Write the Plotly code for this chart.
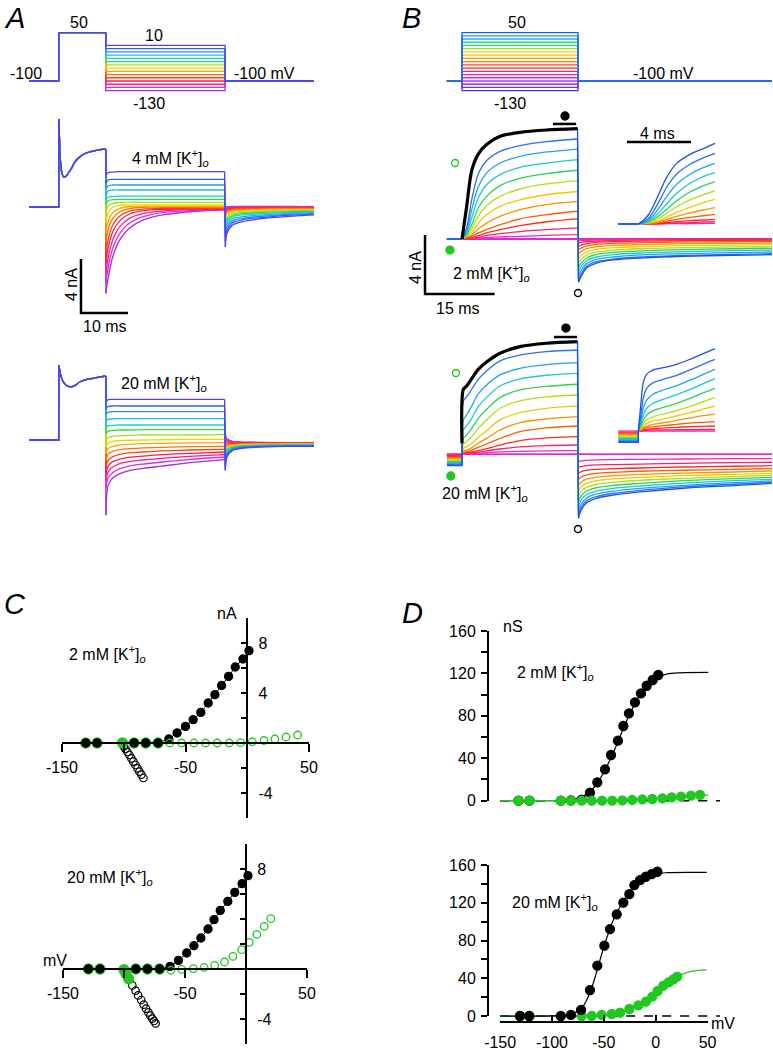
import plotly.graph_objects as go

W, H = 773, 1050
FONT = "Liberation Sans, Arial, Helvetica, sans-serif"
GREEN = "#20c820"

# ======================= DATA =======================
# ---- Panel A : protocol (mV) / timing (ms) ----
A_hold = -100
A_pre_mV = 50
A_test_mV = [10, 0, -10, -20, -30, -40, -50, -60, -70, -80, -90, -100, -110, -120, -130]
A_t_start, A_t_pre_end, A_t_test_end, A_t_stop = -6.3, 10.0, 35.4, 54.3
A_colors = ["#5b3df0", "#2f5ff5", "#2a8ef2", "#1fb8ec", "#18d4c4", "#2edc48", "#a4e01c",
            "#efd400", "#ffa600", "#ff7400", "#ff4010", "#ff1c4c", "#ff1a9c", "#e02ae2", "#9530f0"]

A_t_pre = [0.05, 0.35, 0.7, 1.1, 1.6, 2.5, 3.5, 4.5, 6.0, 8.0, 10.0]
A_t_test = [10.05, 10.5, 11.5, 13, 15, 18, 22, 28, 35.3]
A_t_tail = [35.45, 35.8, 37, 39, 42, 46, 50, 54.3]

A4_pre = [6.5, 3.48, 2.49, 2.2, 2.3, 2.74, 3.36, 3.73, 4.02, 4.2, 4.3]
A4_test = [
    [2.37, 2.54, 2.59, 2.62, 2.62, 2.62, 2.62, 2.62, 2.62],
    [1.75, 2.0, 2.05, 2.05, 2.05, 2.05, 2.05, 2.05, 2.05],
    [1.31, 1.56, 1.63, 1.63, 1.63, 1.63, 1.63, 1.63, 1.63],
    [0.89, 1.19, 1.26, 1.26, 1.26, 1.26, 1.26, 1.26, 1.26],
    [0.52, 0.72, 0.79, 0.81, 0.81, 0.81, 0.81, 0.81, 0.81],
    [0.15, 0.47, 0.54, 0.57, 0.57, 0.57, 0.57, 0.57, 0.57],
    [-0.47, 0.07, 0.27, 0.32, 0.35, 0.35, 0.35, 0.35, 0.35],
    [-1.21, -0.47, -0.02, 0.12, 0.15, 0.15, 0.15, 0.15, 0.15],
    [-1.95, -1.09, -0.42, -0.10, 0.02, 0.05, 0.05, 0.05, 0.02],
    [-2.69, -1.70, -0.84, -0.35, -0.12, -0.02, -0.02, -0.02, -0.05],
    [-3.43, -2.44, -1.33, -0.67, -0.30, -0.15, -0.10, -0.10, -0.10],
    [-4.17, -3.06, -1.83, -1.01, -0.52, -0.27, -0.17, -0.15, -0.15],
    [-4.91, -3.80, -2.44, -1.46, -0.84, -0.47, -0.30, -0.20, -0.17],
    [-5.65, -4.54, -3.06, -1.95, -1.21, -0.72, -0.42, -0.27, -0.20],
    [-6.40, -5.28, -3.68, -2.44, -1.58, -0.96, -0.59, -0.35, -0.22],
]
A4_tail = [
    [-2.94, -1.95, -1.33, -1.09, -0.91, -0.77, -0.67, -0.59],
    [-2.57, -1.70, -1.16, -0.96, -0.81, -0.69, -0.59, -0.54],
    [-2.20, -1.46, -1.01, -0.84, -0.72, -0.62, -0.52, -0.49],
    [-1.95, -1.26, -0.86, -0.72, -0.62, -0.52, -0.44, -0.42],
    [-1.70, -1.09, -0.72, -0.59, -0.52, -0.44, -0.40, -0.37],
    [-1.46, -0.91, -0.62, -0.49, -0.42, -0.37, -0.32, -0.32],
    [-1.21, -0.77, -0.49, -0.40, -0.35, -0.30, -0.27, -0.27],
    [-1.01, -0.62, -0.40, -0.32, -0.27, -0.25, -0.22, -0.22],
    [-0.84, -0.47, -0.30, -0.25, -0.20, -0.17, -0.17, -0.17],
    [-0.67, -0.35, -0.22, -0.17, -0.15, -0.12, -0.12, -0.12],
    [-0.52, -0.25, -0.15, -0.10, -0.10, -0.07, -0.07, -0.07],
    [-0.37, -0.17, -0.10, -0.05, -0.05, -0.05, -0.05, -0.05],
    [-0.22, -0.10, -0.05, -0.02, -0.02, -0.02, -0.02, -0.02],
    [-0.12, -0.05, 0.0, 0.0, 0.0, 0.0, 0.0, 0.0],
    [-0.02, 0.02, 0.05, 0.05, 0.05, 0.05, 0.05, 0.02],
]

A20_pre = [5.53, 4.9, 4.5, 4.25, 4.05, 3.93, 4.05, 4.3, 4.49, 4.62, 4.74]
A20_test = [
    [2.81, 2.99, 3.01, 3.01, 3.01, 3.01, 3.01, 3.01, 3.01],
    [2.32, 2.47, 2.52, 2.52, 2.52, 2.52, 2.52, 2.52, 2.52],
    [1.90, 2.05, 2.10, 2.10, 2.10, 2.10, 2.10, 2.10, 2.10],
    [1.41, 1.53, 1.56, 1.58, 1.58, 1.58, 1.58, 1.58, 1.58],
    [0.91, 1.04, 1.09, 1.11, 1.11, 1.11, 1.11, 1.11, 1.11],
    [0.47, 0.64, 0.72, 0.74, 0.74, 0.77, 0.77, 0.77, 0.77],
    [-0.02, 0.17, 0.27, 0.32, 0.35, 0.37, 0.37, 0.37, 0.40],
    [-0.52, -0.22, -0.10, -0.05, -0.02, 0.0, 0.02, 0.05, 0.05],
    [-1.01, -0.64, -0.47, -0.37, -0.32, -0.27, -0.25, -0.22, -0.20],
    [-1.51, -1.06, -0.84, -0.72, -0.64, -0.59, -0.54, -0.49, -0.47],
    [-2.00, -1.51, -1.23, -1.06, -0.96, -0.89, -0.81, -0.74, -0.69],
    [-2.49, -1.93, -1.60, -1.41, -1.28, -1.19, -1.09, -0.99, -0.89],
    [-2.99, -2.37, -2.00, -1.75, -1.60, -1.48, -1.36, -1.21, -1.09],
    [-3.60, -2.81, -2.40, -2.12, -1.93, -1.78, -1.63, -1.43, -1.26],
    [-5.58, -3.36, -2.81, -2.49, -2.27, -2.10, -1.93, -1.68, -1.46],
]
A20_tail = [
    [-2.25, -1.26, -0.77, -0.62, -0.54, -0.49, -0.47, -0.47],
    [-2.05, -1.14, -0.72, -0.57, -0.49, -0.47, -0.44, -0.44],
    [-1.88, -1.01, -0.67, -0.54, -0.47, -0.44, -0.42, -0.42],
    [-1.70, -0.91, -0.62, -0.49, -0.44, -0.42, -0.40, -0.40],
    [-1.51, -0.81, -0.57, -0.47, -0.42, -0.40, -0.37, -0.37],
    [-1.31, -0.72, -0.52, -0.42, -0.40, -0.37, -0.35, -0.35],
    [-1.14, -0.64, -0.47, -0.40, -0.37, -0.35, -0.32, -0.32],
    [-0.94, -0.57, -0.42, -0.35, -0.32, -0.32, -0.30, -0.30],
    [-0.77, -0.47, -0.37, -0.32, -0.30, -0.30, -0.27, -0.27],
    [-0.57, -0.40, -0.32, -0.30, -0.27, -0.27, -0.27, -0.27],
    [-0.37, -0.30, -0.27, -0.25, -0.25, -0.25, -0.25, -0.25],
    [-0.17, -0.22, -0.22, -0.22, -0.22, -0.22, -0.22, -0.22],
    [0.02, -0.12, -0.17, -0.20, -0.20, -0.20, -0.22, -0.22],
    [0.22, -0.02, -0.12, -0.17, -0.17, -0.20, -0.20, -0.20],
    [0.47, 0.10, -0.10, -0.15, -0.17, -0.20, -0.20, -0.20],
]

# ---- Panel B ----
B_hold = -100
B_test_mV = [50, 40, 30, 20, 10, 0, -10, -20, -30, -40, -50, -60, -70, -80, -90, -100, -110, -120, -130]
B_t_start, B_t_test_end, B_t_stop = -3.25, 25.0, 66.8
B_prot_colors = ["#1f5ef0", "#2a86f2", "#1eb4f0", "#1ed4c0", "#32dc3c", "#9ede1e", "#e8dc00",
                 "#ffc000", "#ff9800", "#ff7000", "#ff4a10", "#ff2428", "#ff1c6c", "#ff18ac",
                 "#f020dc", "#c82cf0", "#9a30f0", "#7230ee", "#4a34e6"]
B_colors = ["#1f50e8", "#2a72f0", "#20a4f0", "#1cc8d2", "#2cd454", "#b4de1a", "#f2c800",
            "#ff9000", "#ff5c00", "#ff2c1c", "#ff2064", "#ff22b4"]
B_flat_colors = ["#6a32ea", "#9a30f0", "#c82cf0", "#f020dc"]

B_t_test = [0, 1.0, 2.1, 3.5, 5.3, 8.2, 12.5, 18.25, 24.9]
B_t_tail = [25.1, 25.7, 26.86, 29.0, 32.6, 38.4, 47.7, 58.5, 66.8]

B2_test = [
    [0, 2.21, 4.65, 5.76, 6.40, 6.96, 7.23, 7.39, 7.48],
    [0, 0.75, 2.67, 4.41, 5.31, 5.94, 6.33, 6.60, 6.78],
    [0, 0.52, 1.99, 3.53, 4.47, 5.15, 5.60, 5.90, 6.10],
    [0, 0.41, 1.42, 2.78, 3.68, 4.36, 4.86, 5.15, 5.38],
    [0, 0.29, 0.97, 2.10, 2.89, 3.62, 4.11, 4.43, 4.66],
    [0, 0.23, 0.68, 1.54, 2.26, 2.89, 3.39, 3.73, 3.96],
    [0, 0.18, 0.45, 1.08, 1.65, 2.21, 2.66, 3.00, 3.22],
    [0, 0.14, 0.29, 0.68, 1.08, 1.53, 1.99, 2.33, 2.55],
    [0, 0.09, 0.18, 0.41, 0.63, 0.97, 1.36, 1.65, 1.88],
    [0, 0.07, 0.11, 0.23, 0.41, 0.63, 0.90, 1.17, 1.36],
    [0, 0.02, 0.05, 0.11, 0.23, 0.36, 0.50, 0.63, 0.75],
    [0, 0.0, 0.02, 0.05, 0.09, 0.14, 0.18, 0.25, 0.29],
]
B2_tail = [
    [-2.94, -2.53, -1.97, -1.63, -1.42, -1.29, -1.17, -1.11, -1.06],
    [-2.76, -2.35, -1.85, -1.54, -1.36, -1.22, -1.11, -1.04, -1.00],
    [-2.49, -2.12, -1.67, -1.38, -1.22, -1.08, -0.99, -0.93, -0.88],
    [-2.20, -1.85, -1.47, -1.22, -1.06, -0.95, -0.86, -0.79, -0.75],
    [-1.90, -1.63, -1.29, -1.04, -0.90, -0.81, -0.72, -0.66, -0.63],
    [-1.63, -1.38, -1.08, -0.88, -0.75, -0.66, -0.59, -0.54, -0.52],
    [-1.31, -1.11, -0.88, -0.70, -0.59, -0.52, -0.45, -0.41, -0.38],
    [-0.99, -0.84, -0.66, -0.52, -0.43, -0.38, -0.32, -0.29, -0.27],
    [-0.72, -0.61, -0.47, -0.36, -0.29, -0.25, -0.20, -0.18, -0.16],
    [-0.50, -0.41, -0.32, -0.23, -0.18, -0.14, -0.11, -0.09, -0.09],
    [-0.27, -0.23, -0.18, -0.14, -0.09, -0.07, -0.05, -0.05, -0.05],
    [-0.14, -0.11, -0.09, -0.07, -0.05, -0.02, -0.02, -0.02, -0.02],
]
B20_hold = [-0.77, -0.70, -0.63, -0.56, -0.49, -0.42, -0.35, -0.28, -0.21, -0.14, -0.07, 0.0]
B20_t_test = [0, 0.29, 1.0, 2.1, 3.5, 5.3, 8.2, 12.5, 18.25, 24.9]
B20_test = [
    [0.75, 4.41, 4.63, 5.13, 5.76, 6.26, 6.85, 7.30, 7.53, 7.64],
    [0.18, 3.62, 3.89, 4.41, 5.08, 5.65, 6.33, 6.73, 6.96, 7.07],
    [0.11, 2.33, 2.67, 3.28, 4.09, 4.70, 5.38, 5.83, 6.08, 6.21],
    [0.07, 1.65, 1.92, 2.44, 3.23, 3.86, 4.63, 5.11, 5.36, 5.49],
    [0.05, 1.08, 1.31, 1.76, 2.44, 3.05, 3.84, 4.36, 4.61, 4.75],
    [0.02, 0.70, 0.86, 1.20, 1.76, 2.33, 3.12, 3.62, 3.89, 4.02],
    [0.02, 0.41, 0.52, 0.75, 1.15, 1.60, 2.33, 2.82, 3.12, 3.28],
    [0.0, 0.25, 0.29, 0.45, 0.75, 1.08, 1.65, 2.15, 2.40, 2.55],
    [0.0, 0.14, 0.18, 0.29, 0.47, 0.70, 1.08, 1.54, 1.79, 1.92],
    [0.0, 0.07, 0.11, 0.16, 0.25, 0.38, 0.63, 0.93, 1.11, 1.20],
    [0.0, 0.05, 0.07, 0.09, 0.14, 0.23, 0.36, 0.50, 0.59, 0.63],
    [0.0, 0.02, 0.02, 0.05, 0.07, 0.11, 0.16, 0.20, 0.23, 0.25],
]
B20_tail = [
    [-4.34, -3.77, -3.28, -2.98, -2.76, -2.55, -2.30, -2.12, -1.97],
    [-4.11, -3.59, -3.14, -2.87, -2.64, -2.44, -2.21, -2.03, -1.90],
    [-3.82, -3.37, -2.96, -2.69, -2.49, -2.31, -2.10, -1.92, -1.81],
    [-3.50, -3.10, -2.73, -2.49, -2.31, -2.15, -1.95, -1.79, -1.70],
    [-3.16, -2.80, -2.49, -2.26, -2.10, -1.97, -1.79, -1.65, -1.56],
    [-2.82, -2.51, -2.24, -2.03, -1.90, -1.76, -1.63, -1.51, -1.42],
    [-2.46, -2.19, -1.97, -1.79, -1.67, -1.56, -1.45, -1.36, -1.29],
    [-2.08, -1.88, -1.69, -1.54, -1.45, -1.36, -1.27, -1.20, -1.13],
    [-1.69, -1.54, -1.40, -1.29, -1.22, -1.15, -1.08, -1.02, -0.97],
    [-1.29, -1.17, -1.08, -1.02, -0.97, -0.93, -0.86, -0.81, -0.77],
    [-0.88, -0.84, -0.77, -0.72, -0.70, -0.66, -0.61, -0.56, -0.54],
    [-0.50, -0.45, -0.41, -0.38, -0.36, -0.34, -0.32, -0.29, -0.29],
]
# insets (expanded onset)
BI_t_start = -1.25
BI2_t = [0, 0.31, 0.625, 0.94, 1.35, 1.77, 2.4, 3.23, 4.06, 4.79]
BI2 = [
    [0, 0.23, 0.61, 1.22, 2.19, 3.16, 4.11, 4.72, 5.11, 5.47],
    [0, 0.14, 0.38, 0.84, 1.63, 2.49, 3.39, 4.05, 4.48, 4.79],
    [0, 0.09, 0.27, 0.59, 1.18, 1.85, 2.69, 3.37, 3.82, 4.11],
    [0, 0.07, 0.20, 0.43, 0.84, 1.36, 2.08, 2.76, 3.21, 3.48],
    [0, 0.05, 0.14, 0.32, 0.61, 1.00, 1.58, 2.17, 2.58, 2.87],
    [0, 0.05, 0.09, 0.23, 0.43, 0.72, 1.17, 1.63, 1.97, 2.26],
    [0, 0.02, 0.07, 0.14, 0.27, 0.47, 0.79, 1.13, 1.45, 1.67],
    [0, 0.02, 0.05, 0.09, 0.18, 0.32, 0.52, 0.75, 0.95, 1.11],
    [0, 0.0, 0.02, 0.05, 0.11, 0.20, 0.32, 0.45, 0.56, 0.65],
    [0, 0.0, 0.02, 0.02, 0.05, 0.09, 0.16, 0.23, 0.27, 0.32],
    [0, 0.0, 0.0, 0.02, 0.02, 0.05, 0.07, 0.09, 0.14, 0.16],
    [0, 0.0, 0.0, 0.0, 0.0, 0.02, 0.02, 0.02, 0.05, 0.05],
]
BI20_t = [0, 0.146, 0.31, 0.52, 0.94, 1.56, 2.4, 3.23, 4.06, 4.79]
BI20 = [
    [0, 1.65, 3.28, 3.84, 4.14, 4.29, 4.52, 4.86, 5.24, 5.58],
    [0, 0.97, 2.21, 2.89, 3.28, 3.50, 3.77, 4.14, 4.54, 4.86],
    [0, 0.63, 1.54, 2.10, 2.51, 2.78, 3.07, 3.44, 3.84, 4.18],
    [0, 0.41, 1.08, 1.54, 1.88, 2.15, 2.46, 2.82, 3.21, 3.55],
    [0, 0.29, 0.75, 1.08, 1.38, 1.60, 1.88, 2.21, 2.58, 2.89],
    [0, 0.18, 0.52, 0.75, 0.97, 1.15, 1.38, 1.67, 1.99, 2.28],
    [0, 0.11, 0.34, 0.52, 0.68, 0.81, 1.02, 1.24, 1.49, 1.69],
    [0, 0.07, 0.23, 0.34, 0.45, 0.56, 0.72, 0.88, 1.04, 1.15],
    [0, 0.05, 0.14, 0.23, 0.29, 0.36, 0.45, 0.54, 0.59, 0.63],
    [0, 0.02, 0.07, 0.11, 0.16, 0.20, 0.25, 0.29, 0.32, 0.34],
    [0, 0.0, 0.02, 0.05, 0.07, 0.07, 0.09, 0.09, 0.11, 0.11],
    [0, 0.0, 0.0, 0.0, 0.0, 0.0, 0.0, 0.0, 0.0, 0.0],
]
# measurement markers (t ms, nA)
B2_mark_bar_t, B2_mark_bar_i = [19.6, 24.6], 7.8
B2_mark_ss = (22.2, 8.34)
B2_mark_inst_open = (-1.5, 5.15)
B2_mark_inst_fill = (-2.6, -0.75)
B2_mark_tail = (25.0, -3.66)
B20_mark_bar_t, B20_mark_bar_i = [19.8, 24.8], 7.95
B20_mark_ss = (22.4, 8.56)
B20_mark_inst_open = (-1.3, 5.51)
B20_mark_inst_fill = (-2.4, -1.47)
B20_mark_tail = (25.0, -5.06)

# ---- Panel C : I-V (mV, nA) ----
C2_black_v = [-130.8, -121.6, -91.6, -82.2, -72.2, -63.5, -56.8, -50, -43.8, -37.6, -31.6, -26.2, -20.8, -15.1, -9.7, -3.5, 1.4]
C2_black_i = [0, 0, 0, 0, 0, 0.32, 0.8, 1.33, 1.87, 2.45, 3.2, 3.87, 4.6, 5.33, 6.08, 6.72, 7.39]
C2_gfill_v = [-130.8, -121.6, -101, -91.6, -82.2, -72.2]
C2_gfill_i = [0, 0, 0, 0, 0, 0]
C2_gopen_v = [-62.7, -53.2, -43.2, -33.8, -24.3, -14.6, -5.4, 4.1, 13.5, 22.4, 31.4, 40.8]
C2_gopen_i = [0, 0, 0, 0, 0, 0, 0.03, 0.1, 0.2, 0.32, 0.48, 0.64]
C2_bopen_v = [-100, -98.6, -97, -95.4, -93.8, -92.2, -90.5, -88.9, -87.3, -85.7, -84.1]
C2_bopen_i = [-0.27, -0.48, -0.72, -0.96, -1.23, -1.49, -1.76, -2.03, -2.29, -2.53, -2.8]

C20_black_v = [-129.2, -119.7, -100, -90.3, -80.8, -70.8, -62.2, -55.4, -48.6, -42.7, -37, -31.1, -26.2, -21.1, -14.9, -9.2, -3.2, 1.6]
C20_black_i = [0, 0, -0.05, 0, 0, 0, 0.21, 0.69, 1.28, 1.87, 2.48, 3.2, 3.95, 4.69, 5.41, 6.13, 6.83, 7.47]
C20_gfill_v = [-129.2, -119.7, -100, -98.4, -96.2, -90.3, -80.8, -70.8]
C20_gfill_i = [0, 0, -0.05, -0.37, -0.78, 0, 0, 0]
C20_gopen_v = [-61.6, -52.7, -43.2, -34.3, -25.7, -17.6, -10.8, -3.5, 2.7, 8.9, 14.9, 20.3]
C20_gopen_i = [-0.1, -0.03, 0.03, 0.13, 0.29, 0.56, 1.01, 1.55, 2.13, 2.77, 3.41, 4.03]
C20_bopen_v = [-98.6, -95.9, -93.2, -90.5, -88.4, -85.9, -83.8, -81.9, -80, -78.4, -76.8, -75.4, -74.1]
C20_bopen_i = [-0.45, -0.85, -1.31, -1.73, -2.11, -2.48, -2.85, -3.17, -3.47, -3.73, -3.97, -4.16, -4.35]

C_x_labels = [-150, -50, 50]
C_x_minor = [-100, 0]
C_y_minor = [-6, -4, -2, 0, 2, 4, 6, 8, 10]
C2_y_labels = [-4, 4, 8]
C20_y_labels = [-4, 8]

# ---- Panel D : conductance (mV, nS) ----
D2_black_v = [-132.3, -121.7, -91.5, -81.7, -71.4, -63.4, -56.3, -48.9, -43.1, -36.4, -31.2, -25.8, -20, -14.2, -8.7, -2.9, 2.5]
D2_black_g = [0, 0, 0, 0.3, 1.0, 7.5, 17.3, 29.5, 43, 56.5, 70.3, 82.2, 92.6, 101, 108.2, 113.6, 118.3]
D2_bfit_v = [-150, -90, -82.6, -73, -63.4, -55.4, -47.3, -39.2, -31.2, -24.8, -16.8, -8.7, 1, 10.6, 23.4, 50.7]
D2_bfit_g = [0, 0.3, 0.8, 3.0, 8.5, 18, 32, 49, 68, 82, 97, 108.5, 116, 119.2, 120.4, 120.8]
D2_green_v = [-132.3, -121.7, -91.5, -81.7, -71.4, -61.7, -51.8, -41.9, -32.2, -22.6, -12.9, -3.3, 6.4, 15.4, 24.4, 34, 42.7]
D2_green_g = [0, 0, 0, 0, 0, 0, 0, 0.1, 0.3, 0.7, 1.3, 1.6, 2.2, 3.2, 3.8, 4.8, 5.4]
D2_gfit_v = [-150, -60, -30, 0, 20, 35, 50.7]
D2_gfit_g = [0, 0.05, 0.5, 1.8, 3.3, 4.3, 5.3]

D20_black_v = [-130.9, -121.9, -91.5, -81.7, -72, -63.4, -56.3, -49.5, -44.1, -37.6, -31.2, -25.4, -20.6, -15.1, -9.6, -3.9, 1.6]
D20_black_g = [0, 0, 0, 1.1, 6.4, 27.5, 53.3, 74.5, 92.1, 107.7, 120, 129.2, 138.7, 144, 147.5, 150.3, 152.8]
D20_bfit_v = [-150, -95.5, -82.6, -73, -66.6, -60.3, -53.7, -47.3, -40.9, -34.4, -28, -21.6, -11.9, -2.3, 10.6, 49.2]
D20_bfit_g = [0, 0.35, 2.1, 6.4, 16.9, 34.5, 59.3, 82.3, 101.7, 115.8, 127.1, 137, 145.8, 150.1, 151.8, 152.1]
D20_green_v = [-130.9, -121.9, -71.4, -61.7, -52.1, -42.4, -34.4, -25.4, -16.8, -9.4, -3.3, 1.9, 7.3, 12.5, 17, 20.8]
D20_green_g = [0, 0, 0, 0, 1.1, 2.1, 3.5, 7.4, 11.3, 15.2, 20.5, 26.5, 32.1, 35.7, 38.9, 41.7]
D20_gfit_v = [-150, -63.4, -47.3, -31.2, -18.3, -8.7, 1, 10.6, 20.3, 33.1, 49.2]
D20_gfit_g = [0, 0.35, 1.4, 4.6, 10.6, 17, 25.8, 34.6, 41.7, 47, 48.8]
D_zero_v = [-150, 62]
D_y_labels = [0, 40, 80, 120, 160]
D_y_minor = [20, 60, 100, 140]
D_x_labels = [-150, -100, -50, 0, 50]

# ======================= LAYOUT HELPERS =======================
layout = dict(template="none", width=W, height=H, margin=dict(l=0, r=0, t=0, b=0, pad=0, autoexpand=False),
              paper_bgcolor="white", plot_bgcolor="rgba(0,0,0,0)", showlegend=False,
              font=dict(family=FONT, size=16, color="black"))


def akey(kind, n):
    return kind + "axis" + ("" if n == 1 else str(n))


def aref(kind, n):
    return kind + ("" if n == 1 else str(n))


def xr(l, r, ref_px, ref_val, ppu):
    return [ref_val + (l - ref_px) / ppu, ref_val + (r - ref_px) / ppu]


def yr(t, b, ref_px, ref_val, ppu):
    return [ref_val - (b - ref_px) / ppu, ref_val + (ref_px - t) / ppu]


def hidden_pair(n, xbox, xmap, ybox, ymap):
    layout[akey("x", n)] = dict(visible=False, domain=[xbox[0] / W, xbox[1] / W],
                                range=xr(xbox[0], xbox[1], *xmap), anchor=aref("y", n),
                                fixedrange=True, showgrid=False, zeroline=False, automargin=False)
    layout[akey("y", n)] = dict(visible=False, domain=[1 - ybox[1] / H, 1 - ybox[0] / H],
                                range=yr(ybox[0], ybox[1], *ymap), anchor=aref("x", n),
                                fixedrange=True, showgrid=False, zeroline=False, automargin=False)


A_X = (58.7, 0, 4.7)
B_X = (462, 0, 4.64)
BI_X = (638.3, 0, 16.0)
PROT_Y = (81, -100, 0.323)

hidden_pair(1, (20, 320), A_X, (18, 100), PROT_Y)            # A protocol
hidden_pair(2, (20, 320), A_X, (108, 335), (207, 0, 13.5))   # A 4 mM
hidden_pair(3, (20, 320), A_X, (350, 530), (440, 0, 13.5))   # A 20 mM
hidden_pair(4, (405, 773), B_X, (18, 100), PROT_Y)           # B protocol
hidden_pair(5, (405, 773), B_X, (105, 320), (239, 0, 14.75))  # B 2 mM
hidden_pair(6, (610, 730), BI_X, (125, 232), (224, 0, 14.75))  # B 2 mM inset
hidden_pair(7, (405, 773), B_X, (320, 545), (454.3, 0, 14.75))  # B 20 mM
hidden_pair(8, (610, 730), BI_X, (340, 450), (431, 0, 14.75))   # B 20 mM inset
D_X = (655.7, 0, 1.037)
hidden_pair(11, (488, 730), D_X, (620, 812), (800.7, 0, 1.0625))  # D top data
hidden_pair(12, (488, 730), D_X, (855, 1028), (1016, 0, 0.944))   # D bottom data

axis_style = dict(visible=True, showline=True, linecolor="black", linewidth=2,
                  tickcolor="black", tickwidth=2, showgrid=False, zeroline=False,
                  fixedrange=True, automargin=False, tickmode="array",
                  tickfont=dict(family=FONT, size=16, color="black"))

# C axes (crossing at 0)
for n, xbox, ybox, ylab in [(9, (62, 309), (618, 818), C2_y_labels),
                            (10, (63, 307), (844, 1044), C20_y_labels)]:
    y0_px = ybox[0] + (ybox[1] - ybox[0]) * 10 / 16
    x0_px = xbox[0] + (xbox[1] - xbox[0]) * 150 / 200
    layout[akey("x", n)] = dict(axis_style, domain=[xbox[0] / W, xbox[1] / W], range=[-150, 50],
                                anchor="free", position=1 - y0_px / H, side="bottom",
                                ticks="outside", ticklen=8, tickvals=C_x_labels,
                                ticktext=[str(v) for v in C_x_labels], ticklabelstandoff=2,
                                minor=dict(tickvals=C_x_minor, ticks="outside", ticklen=8,
                                           tickwidth=2, tickcolor="black", showgrid=False))
    layout[akey("y", n)] = dict(axis_style, domain=[1 - ybox[1] / H, 1 - ybox[0] / H], range=[-6, 10],
                                anchor="free", position=x0_px / W, side="right",
                                ticks="inside", ticklen=5, tickvals=ylab,
                                ticktext=[str(v) for v in ylab], ticklabelstandoff=7,
                                minor=dict(tickvals=C_y_minor, ticks="inside", ticklen=5,
                                           tickwidth=2, tickcolor="black", showgrid=False))

# D ruler axes
for n, ybox in [(13, (631, 800.7)), (14, (865, 1016))]:
    layout[akey("y", n)] = dict(axis_style, domain=[1 - ybox[1] / H, 1 - ybox[0] / H], range=[0, 160],
                                anchor="free", position=488 / W, side="left", ticks="outside",
                                ticklen=6, tickvals=D_y_labels, ticktext=[str(v) for v in D_y_labels],
                                ticklabelstandoff=2,
                                minor=dict(tickvals=D_y_minor, ticks="outside", ticklen=6,
                                           tickwidth=2, tickcolor="black", showgrid=False))
dx_l = 655.7 - 150 * 1.037
dx_r = 655.7 + 50 * 1.037
layout[akey("x", 15)] = dict(axis_style, domain=[dx_l / W, dx_r / W], range=[-150, 50],
                             anchor="free", position=1 - 1022 / H, side="bottom", ticks="inside",
                             ticklen=6, tickvals=D_x_labels, ticktext=[str(v) for v in D_x_labels],
                             ticklabelstandoff=6)

fig = go.Figure()


def add_sweep(n, segs, color, width=1.3):
    lx, ly, sx, sy = [], [], [], []
    for xs, ys, kind in segs:
        if kind == "lin":
            lx += list(xs) + [None]
            ly += list(ys) + [None]
        else:
            sx += list(xs) + [None]
            sy += list(ys) + [None]
    common = dict(mode="lines", xaxis=aref("x", n), yaxis=aref("y", n), hoverinfo="skip",
                  showlegend=False)
    if lx:
        fig.add_trace(go.Scatter(x=lx, y=ly, line=dict(color=color, width=width), **common))
    if sx:
        fig.add_trace(go.Scatter(x=sx, y=sy, line=dict(color=color, width=width, shape="spline",
                                                       smoothing=0.8), **common))


def add_pts(n, xs, ys, color, size=8, symbol="circle", lw=1.3, mode="markers", line=None):
    kw = dict(x=xs, y=ys, mode=mode, xaxis=aref("x", n), yaxis=aref("y", n), hoverinfo="skip",
              showlegend=False, cliponaxis=False,
              marker=dict(size=size, color=color, symbol=symbol, line=dict(width=lw, color=color)))
    if line is not None:
        kw["line"] = line
    fig.add_trace(go.Scatter(**kw))


# ---------------- Panel A protocol ----------------
for i in reversed(range(len(A_test_mV))):
    v = A_test_mV[i]
    add_sweep(1, [([A_t_start, 0, 0, A_t_pre_end, A_t_pre_end, A_t_test_end, A_t_test_end, A_t_stop],
                   [A_hold, A_hold, A_pre_mV, A_pre_mV, v, v, A_hold, A_hold], "lin")], A_colors[i])

# ---------------- Panel A currents ----------------
for n, pre, test, tail in [(2, A4_pre, A4_test, A4_tail), (3, A20_pre, A20_test, A20_tail)]:
    for i in reversed(range(len(test))):
        segs = [
            ([A_t_start, 0, 0, A_t_pre[0]], [0, 0, 0, pre[0]], "lin"),
            (A_t_pre, pre, "spl"),
            ([A_t_pre[-1], A_t_test[0]], [pre[-1], test[i][0]], "lin"),
            (A_t_test, test[i], "spl"),
            ([A_t_test[-1], A_t_tail[0]], [test[i][-1], tail[i][0]], "lin"),
            (A_t_tail, tail[i], "spl"),
        ]
        add_sweep(n, segs, A_colors[i])

# scale bar A (4 nA, 10 ms)
add_pts(2, [4.74, 4.74, 14.74], [-3.85, -7.85, -7.85], "black", mode="lines",
        line=dict(color="black", width=2.5))

# ---------------- Panel B protocol ----------------
for i in reversed(range(len(B_test_mV))):
    v = B_test_mV[i]
    add_sweep(4, [([B_t_start, 0, 0, B_t_test_end, B_t_test_end, B_t_stop],
                   [B_hold, B_hold, v, v, B_hold, B_hold], "lin")], B_prot_colors[i])

# ---------------- Panel B currents ----------------
for n, tt, test, tail, hold in [(5, B_t_test, B2_test, B2_tail, [0] * 12),
                                (7, B20_t_test, B20_test, B20_tail, B20_hold)]:
    for c in B_flat_colors:
        add_sweep(n, [([B_t_start, B_t_stop], [0, 0], "lin")], c)
    for i in reversed(range(len(test))):
        segs = [
            ([B_t_start, 0, 0], [hold[i], hold[i], test[i][0]], "lin"),
            (tt, test[i], "spl"),
            ([tt[-1], B_t_tail[0]], [test[i][-1], tail[i][0]], "lin"),
            (B_t_tail, tail[i], "spl"),
        ]
        add_sweep(n, segs, B_colors[i])
    add_sweep(n, [(tt, test[0], "spl")], "black", width=3.2)

# insets
for n, tt, data, hold in [(6, BI2_t, BI2, [0] * 12), (8, BI20_t, BI20, B20_hold)]:
    for i in reversed(range(len(data))):
        segs = [([BI_t_start, 0, 0], [hold[i], hold[i], data[i][0]], "lin"),
                (tt, data[i], "spl")]
        add_sweep(n, segs, B_colors[i])
# inset time bar (4 ms)
add_pts(6, [-0.71, 3.29], [5.56, 5.56], "black", mode="lines", line=dict(color="black", width=2.5))
# scale bar B (4 nA, 15 ms)
add_pts(5, [-7.97, -7.97, 7.03], [0.27, -3.73, -3.73], "black", mode="lines",
        line=dict(color="black", width=2.5))

# measurement markers
for n, bar_t, bar_i, ss, io, inf, tl in [
        (5, B2_mark_bar_t, B2_mark_bar_i, B2_mark_ss, B2_mark_inst_open, B2_mark_inst_fill, B2_mark_tail),
        (7, B20_mark_bar_t, B20_mark_bar_i, B20_mark_ss, B20_mark_inst_open, B20_mark_inst_fill, B20_mark_tail)]:
    add_pts(n, bar_t, [bar_i, bar_i], "black", mode="lines", line=dict(color="black", width=2.5))
    add_pts(n, [ss[0]], [ss[1]], "black", size=8)
    add_pts(n, [io[0]], [io[1]], GREEN, size=7, symbol="circle-open", lw=1.4)
    add_pts(n, [inf[0]], [inf[1]], GREEN, size=8)
    add_pts(n, [tl[0]], [tl[1]], "black", size=7, symbol="circle-open", lw=1.4)

# ---------------- Panel C ----------------
for n, bv, bi, gfv, gfi, gov, goi, bov, boi in [
        (9, C2_black_v, C2_black_i, C2_gfill_v, C2_gfill_i, C2_gopen_v, C2_gopen_i, C2_bopen_v, C2_bopen_i),
        (10, C20_black_v, C20_black_i, C20_gfill_v, C20_gfill_i, C20_gopen_v, C20_gopen_i, C20_bopen_v, C20_bopen_i)]:
    add_pts(n, bv, bi, "black", mode="lines", line=dict(color="black", width=1))
    add_pts(n, bov, boi, "black", size=7.5, symbol="circle-open", lw=1.2)
    add_pts(n, gfv, gfi, GREEN, size=10)
    keep = [k for k, v in enumerate(bv) if v not in (-101, -100)]
    add_pts(n, [bv[k] for k in keep], [bi[k] for k in keep], "black", size=8)
    add_pts(n, gov, goi, GREEN, size=7.5, symbol="circle-open", lw=1.3)

# ---------------- Panel D ----------------
add_pts(11, D_zero_v, [0, 0], "black", mode="lines", line=dict(color="black", width=1.5, dash="dash"))
add_pts(11, D2_bfit_v, D2_bfit_g, "black", mode="lines", line=dict(color="black", width=1.2, shape="spline"))
add_pts(11, D2_black_v, D2_black_g, "black", size=9)
add_pts(11, D2_gfit_v, D2_gfit_g, GREEN, mode="lines", line=dict(color=GREEN, width=1.2, shape="spline"))
add_pts(11, D2_green_v, D2_green_g, GREEN, size=9)

add_pts(12, D_zero_v, [0, 0], "black", mode="lines", line=dict(color="black", width=1.5, dash="dash"))
add_pts(12, D20_gfit_v, D20_gfit_g, GREEN, mode="lines", line=dict(color=GREEN, width=1.2, shape="spline"))
add_pts(12, D20_green_v, D20_green_g, GREEN, size=9)
add_pts(12, D20_bfit_v, D20_bfit_g, "black", mode="lines", line=dict(color="black", width=1.2, shape="spline"))
add_pts(12, D20_black_v, D20_black_g, "black", size=9)

# ruler axes (need a trace to be drawn)
for xa, ya in [("x11", "y13"), ("x12", "y14"), ("x15", "y12")]:
    fig.add_trace(go.Scatter(x=[None], y=[None], xaxis=xa, yaxis=ya, mode="markers",
                             showlegend=False, hoverinfo="skip"))


# ======================= TEXT =======================
def txt(s, x, y, size=16, angle=0, italic=False, xanchor="center"):
    if italic:
        s = "<i>" + s + "</i>"
    layout.setdefault("annotations", []).append(dict(
        text=s, x=x / W, y=1 - y / H, xref="paper", yref="paper", showarrow=False,
        font=dict(size=size, family=FONT, color="black"), textangle=angle,
        xanchor=xanchor, yanchor="middle"))


KO = "[K<sup>+</sup>]<sub><i>o</i></sub>"
for s, x, y in [("A", 15, 18), ("B", 411, 18), ("C", 15, 604), ("D", 412, 613)]:
    txt(s, x, y, size=29, italic=True)
for s, x, y in [("50", 79, 23), ("10", 154, 36), ("-130", 149, 103), ("-100", 26, 73), ("-100 mV", 264, 73),
                ("50", 517, 23), ("-130", 510, 103), ("-100 mV", 663, 73)]:
    txt(s, x, y)
for s, x, y in [("4 mM " + KO, 170, 158), ("20 mM " + KO, 164, 383), ("2 mM " + KO, 491, 273),
                ("20 mM " + KO, 485, 493), ("2 mM " + KO, 107, 654), ("20 mM " + KO, 110, 877),
                ("2 mM " + KO, 555, 672), ("20 mM " + KO, 555, 902)]:
    txt(s, x, y)
txt("10 ms", 105, 327)
txt("4 nA", 72, 285, angle=-90)
txt("15 ms", 458, 308)
txt("4 nA", 416, 267, angle=-90)
txt("4 ms", 657, 133)
txt("nA", 227, 613)
txt("mV", 55, 960)
txt("nS", 513, 626)
txt("mV", 723, 1023)

fig.update_layout(**layout)
# remove the browser's default 8 px page margin so the 773x1050 figure fills the window exactly
fig.write_html("out.html", config={"displayModeBar": False, "staticPlot": True},
               post_script="document.body.style.margin='0px';document.body.style.overflow='hidden';")
